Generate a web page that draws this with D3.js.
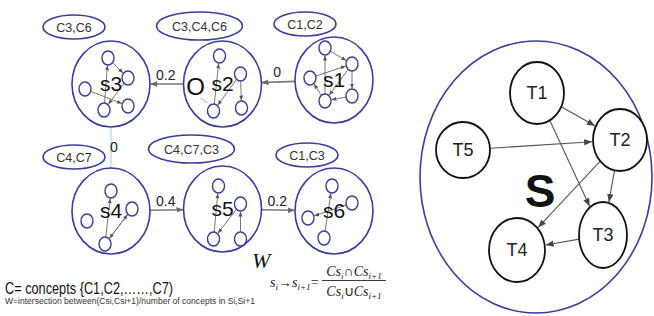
<!DOCTYPE html>
<html>
<head>
<meta charset="utf-8">
<script src="https://cdn.jsdelivr.net/npm/d3@7"></script>
<style>
  body { margin: 0; background: #fff; }
  svg { display: block; }
</style>
</head>
<body>
<svg id="fig" width="654" height="316"></svg>
<script>
// ---- data ----
const states = ["s1", "s2", "s3", "s4", "s5", "s6"]
const concepts = ["C1,C2", "C3,C4,C6", "C3,C6", "C4,C7", "C4,C7,C3", "C1,C3"]
const weights = ["0", "0.2", "0", "0.4", "0.2"]          // s1->s2, s2->s3, s3->s4, s4->s5, s5->s6
const tasks = ["T1", "T2", "T3", "T4", "T5"]
const taskLinks = [["T1", "T2"], ["T1", "T3"], ["T5", "T2"], ["T2", "T3"], ["T2", "T4"], ["T3", "T4"]]
// inner concept graphs: number of small nodes and directed links between them
const innerLinks = {
  s1: [[0, 1], [2, 1], [1, 4], [4, 3], [3, 2], [3, 0], [1, 3]],
  s2: [[2, 0], [1, 3], [1, 2]],
  s3: [[3, 0], [0, 2], [2, 3], [1, 4]],
  s4: [[3, 0], [1, 3], [3, 1]],
  s5: [[2, 0], [1, 2], [3, 1]],
  s6: [[1, 2], [3, 0]]
}

// ---- layout (diagram geometry) ----
const col = d3.scaleLinear().domain([0, 2]).range([111, 334])
const row = d3.scaleLinear().domain([0, 1]).range([83, 211])
const grid = { s1: [2, 0, -3], s2: [1, 0, 1], s3: [0, 0, 1], s4: [0, 1, 0], s5: [1, 1, -2], s6: [2, 1, 0] }
const pos = {}
states.forEach(s => { pos[s] = { x: col(grid[s][0]), y: row(grid[s][1]) + grid[s][2] } })
const R = { rx: 39, ry: 43 }
const innerNodes = {
  s1: [[-9, -32], [18, -16], [-24, -2], [-9, 21], [18, 16]],
  s2: [[-3, -28], [18, -10], [-9, 27], [19, 24]],
  s3: [[-3, -26], [-26, 5], [17, -6], [-7, 26], [17, 22]],
  s4: [[0, -20], [21, -2], [-24, 10], [-6, 33]],
  s5: [[-4, -23], [18, -5], [-9, 30], [18, 30]],
  s6: [[-2, -25], [18, -8], [-26, 7], [-10, 27]]
}
const conceptPos = { s1: [-29, -56], s2: [-23, -58], s3: [-37, -57], s4: [-37, -54], s5: [-31, -60], s6: [-27, -56] }
const taskPos = { T1: [537, 93], T2: [620, 140], T3: [603, 235], T4: [517, 250], T5: [463, 150] }
const taskR = { T1: [27, 31], T2: [27, 31], T3: [24, 33], T4: [28, 32], T5: [27, 28] }

const navy = "#3b3d98"
const svg = d3.select("#fig")
svg.append("rect").attr("width", 654).attr("height", 316).attr("fill", "#fff")

const defs = svg.append("defs")
function marker (id, size, color) {
  defs.append("marker").attr("id", id)
    .attr("viewBox", "0 0 10 10").attr("refX", 10).attr("refY", 5)
    .attr("markerWidth", size).attr("markerHeight", size)
    .attr("markerUnits", "userSpaceOnUse").attr("orient", "auto")
    .append("path").attr("d", "M0,1 L10,5 L0,9 z").attr("fill", color)
}
marker("big", 7, "#6a6a6a")
marker("small", 5, "#555")
marker("task", 8, "#444")

// point on an ellipse boundary in direction of p
function edge (c, rx, ry, p, gap) {
  const dx = p.x - c.x, dy = p.y - c.y
  const t = 1 / Math.sqrt((dx / rx) ** 2 + (dy / ry) ** 2)
  const len = Math.sqrt(dx * dx + dy * dy)
  return { x: c.x + dx * t + dx / len * gap, y: c.y + dy * t + dy / len * gap }
}

const font = "'Liberation Sans Narrow', 'Liberation Sans', Arial, sans-serif"

// ---- links between states ----
states.slice(0, -1).forEach((s, i) => {
  const a = pos[s], b = pos[states[i + 1]]
  const p1 = edge(a, R.rx, R.ry, b, 0), p2 = edge(b, R.rx, R.ry, a, 0)
  const vertical = Math.abs(a.x - b.x) < 1
  svg.append("line")
    .attr("x1", p1.x).attr("y1", p1.y).attr("x2", p2.x).attr("y2", p2.y)
    .attr("stroke", vertical ? "#a6dbe6" : "#7a7a7a")
    .attr("stroke-width", vertical ? 1.2 : 1.6)
    .attr("marker-end", vertical ? null : "url(#big)")
  svg.append("text")
    .attr("x", vertical ? a.x + 3 : (p1.x + p2.x) / 2 - 1)
    .attr("y", vertical ? (p1.y + p2.y) / 2 + 4 : p1.y - 4)
    .attr("text-anchor", "middle")
    .attr("font-family", font).attr("font-size", 14).attr("fill", "#222")
    .text(weights[i])
})

// ---- states ----
const g = svg.selectAll("g.state").data(states).join("g")
  .attr("class", "state")
  .attr("transform", d => `translate(${pos[d].x},${pos[d].y})`)

g.append("ellipse").attr("rx", R.rx).attr("ry", R.ry)
  .attr("fill", "none").attr("stroke", navy).attr("stroke-width", 1.6)

g.each(function (s) {
  const el = d3.select(this)
  const nodes = innerNodes[s]
  innerLinks[s].forEach(([a, b]) => {
    const pa = { x: nodes[a][0], y: nodes[a][1] }, pb = { x: nodes[b][0], y: nodes[b][1] }
    const p1 = edge(pa, 6, 7, pb, 0), p2 = edge(pb, 6, 7, pa, 0.5)
    el.append("line").attr("x1", p1.x).attr("y1", p1.y).attr("x2", p2.x).attr("y2", p2.y)
      .attr("stroke", "#666").attr("stroke-width", 0.9).attr("marker-end", "url(#small)")
  })
  el.selectAll("ellipse.n").data(nodes).join("ellipse").attr("class", "n")
    .attr("cx", d => d[0]).attr("cy", d => d[1]).attr("rx", 6).attr("ry", 7)
    .attr("fill", "#fff").attr("stroke", navy).attr("stroke-width", 1.4)
})

g.append("text").attr("y", 7).attr("text-anchor", "middle")
  .attr("font-family", "'Liberation Sans', Arial, sans-serif").attr("font-size", 21).attr("fill", "#111")
  .text(d => d)

// the stray "O" inside s2
svg.append("text").attr("x", pos.s2.x - 27).attr("y", pos.s2.y + 11)
  .attr("text-anchor", "middle").attr("font-family", "'Liberation Sans', Arial, sans-serif")
  .attr("font-size", 24).attr("fill", "#111").text("O")
svg.append("line").attr("x1", pos.s2.x - 22).attr("y1", pos.s2.y + 14)
  .attr("x2", pos.s2.x - 15).attr("y2", pos.s2.y + 19).attr("stroke", "#a6dbe6").attr("stroke-width", 1.2)

// ---- concept ellipses ----
states.forEach((s, i) => {
  const cx = pos[s].x + conceptPos[s][0], cy = pos[s].y + conceptPos[s][1]
  const wide = concepts[i].split(",").length > 2
  svg.append("ellipse").attr("cx", cx).attr("cy", cy)
    .attr("rx", wide ? 43 : 31).attr("ry", wide ? 14 : 12)
    .attr("fill", "#fff").attr("stroke", navy).attr("stroke-width", 1.6)
  svg.append("text").attr("x", cx).attr("y", cy + 4.5).attr("text-anchor", "middle")
    .attr("font-family", font).attr("font-size", 12.5).attr("fill", "#333")
    .text(concepts[i])
})

// ---- legend texts ----
svg.append("text").attr("x", 5).attr("y", 294)
  .attr("font-family", font).attr("font-size", 16).attr("fill", "#111")
  .attr("textLength", 168).attr("lengthAdjust", "spacingAndGlyphs")
  .text("C= concepts {C1,C2,……,C7)")
svg.append("text").attr("x", 5).attr("y", 304)
  .attr("font-family", font).attr("font-size", 8.5).attr("fill", "#333")
  .attr("textLength", 250).attr("lengthAdjust", "spacingAndGlyphs")
  .text("W=intersection between(Csi,Csi+1)/number of concepts in Si,Si+1")

const serif = "'Liberation Serif', 'Times New Roman', serif"
svg.append("text").attr("x", 252).attr("y", 268)
  .attr("font-family", serif).attr("font-style", "italic").attr("font-size", 22).attr("fill", "#111").text("W")

function subText (x, y, parts, size, anchor) {
  const t = svg.append("text").attr("x", x).attr("y", y)
    .attr("font-family", serif).attr("font-size", size).attr("fill", "#222")
    .attr("text-anchor", anchor || "start")
  let shifted = false
  parts.forEach(([str, sub, ital]) => {
    const sp = t.append("tspan").text(str)
    if (ital) sp.attr("font-style", "italic")
    if (sub && !shifted) { sp.attr("dy", 3).attr("font-size", size * 0.65); shifted = true }
    else if (!sub && shifted) { sp.attr("dy", -3); shifted = false }
    else if (sub) sp.attr("font-size", size * 0.65)
  })
  return t
}
subText(270, 287, [["s", 0, 1], ["i", 1, 1], ["→", 0, 0], ["s", 0, 1], ["i+1", 1, 1], ["=", 0, 0]], 14)
subText(354, 276, [["Cs", 0, 1], ["i", 1, 1], ["∩", 0, 0], ["Cs", 0, 1], ["i+1", 1, 1]], 14, "middle")
svg.append("line").attr("x1", 322).attr("x2", 386).attr("y1", 280.5).attr("y2", 280.5)
  .attr("stroke", "#222").attr("stroke-width", 0.9)
subText(354, 296, [["Cs", 0, 1], ["i", 1, 1], ["∪", 0, 0], ["Cs", 0, 1], ["i+1", 1, 1]], 14, "middle")

// ---- right panel ----
const S = { x: 536, y: 177 }
svg.append("ellipse").attr("cx", S.x).attr("cy", S.y).attr("rx", 116).attr("ry", 136)
  .attr("fill", "#fff").attr("stroke", navy).attr("stroke-width", 1.6)

taskLinks.forEach(([a, b]) => {
  const pa = { x: taskPos[a][0], y: taskPos[a][1] }, pb = { x: taskPos[b][0], y: taskPos[b][1] }
  const p1 = edge(pa, taskR[a][0], taskR[a][1], pb, 0)
  const p2 = edge(pb, taskR[b][0], taskR[b][1], pa, 1)
  svg.append("line").attr("x1", p1.x).attr("y1", p1.y).attr("x2", p2.x).attr("y2", p2.y)
    .attr("stroke", "#555").attr("stroke-width", 1.1).attr("marker-end", "url(#task)")
})

const tg = svg.selectAll("g.task").data(tasks).join("g").attr("class", "task")
  .attr("transform", d => `translate(${taskPos[d][0]},${taskPos[d][1]})`)
tg.append("ellipse").attr("rx", d => taskR[d][0]).attr("ry", d => taskR[d][1])
  .attr("fill", "#fff").attr("stroke", "#111").attr("stroke-width", 1.8)
tg.append("text").attr("y", 6).attr("text-anchor", "middle")
  .attr("font-family", font).attr("font-size", 18).attr("fill", "#222").text(d => d)

svg.append("text").attr("x", 540).attr("y", 207).attr("text-anchor", "middle")
  .attr("font-family", "'Liberation Sans', Arial, sans-serif").attr("font-weight", "bold")
  .attr("font-size", 46).attr("fill", "#111").text("S")
</script>
</body>
</html>
